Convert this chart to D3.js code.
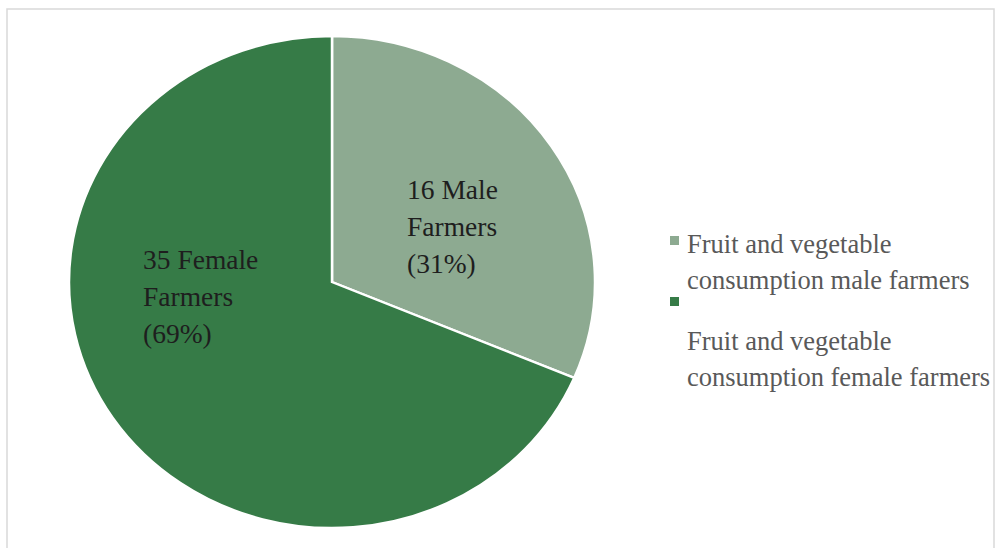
<!DOCTYPE html>
<html>
<head>
<meta charset="utf-8">
<script src="https://cdn.jsdelivr.net/npm/d3@7"></script>
<style>
  html, body { margin: 0; padding: 0; background: #fff; }
  svg { display: block; }
  text { font-family: "Liberation Serif", "Times New Roman", serif; }
</style>
</head>
<body>
<svg id="chart" width="995" height="548"></svg>
<script>
// Data
const categories = ["Fruit and vegetable consumption male farmers", "Fruit and vegetable consumption female farmers"];
const values = [16, 35];
const sliceLabels = [["16 Male", "Farmers", "(31%)"], ["35 Female", "Farmers", "(69%)"]];
const legendLines = [["Fruit and vegetable", "consumption male farmers"], ["Fruit and vegetable", "consumption female farmers"]];
const colors = ["#8DAA91", "#367B47"];

const svg = d3.select("#chart");

// outer border
svg.append("rect")
  .attr("x", 7).attr("y", 9)
  .attr("width", 987).attr("height", 545)
  .attr("fill", "#fff")
  .attr("stroke", "#d9d9d9").attr("stroke-width", 1.5);

const cx = 332, cy = 282, rx = 263, ry = 246;
const pie = d3.pie().sort(null).value(d => d)(values);
const arc = d3.arc().innerRadius(0).outerRadius(rx);

const g = svg.append("g").attr("transform", `translate(${cx},${cy}) scale(1,${ry / rx})`);
g.selectAll("path").data(pie).enter().append("path")
  .attr("d", arc)
  .attr("fill", (d, i) => colors[i])
  .attr("stroke", "#fff")
  .attr("stroke-width", 2.5)
  .attr("stroke-linejoin", "miter");

// slice labels
const labelPos = [{x: 407, y: 199}, {x: 143, y: 269}];
const lineH = 37;
sliceLabels.forEach((lines, i) => {
  const t = svg.append("text")
    .attr("x", labelPos[i].x).attr("y", labelPos[i].y)
    .attr("font-size", 27.5)
    .attr("fill", "#1e1e1e");
  lines.forEach((l, j) => {
    t.append("tspan").attr("x", labelPos[i].x).attr("y", labelPos[i].y + j * lineH).text(l);
  });
});

// legend
const legX = 670, legTextX = 687;
const legSquareY = [236, 297];
const legTextY = [[253, 289], [350, 386]];
categories.forEach((c, i) => {
  svg.append("rect")
    .attr("x", legX).attr("y", legSquareY[i])
    .attr("width", 9).attr("height", 9)
    .attr("fill", colors[i]);
  legendLines[i].forEach((l, j) => {
    svg.append("text")
      .attr("x", legTextX).attr("y", legTextY[i][j])
      .attr("font-size", 26.5)
      .attr("fill", "#595959")
      .text(l);
  });
});
</script>
</body>
</html>
